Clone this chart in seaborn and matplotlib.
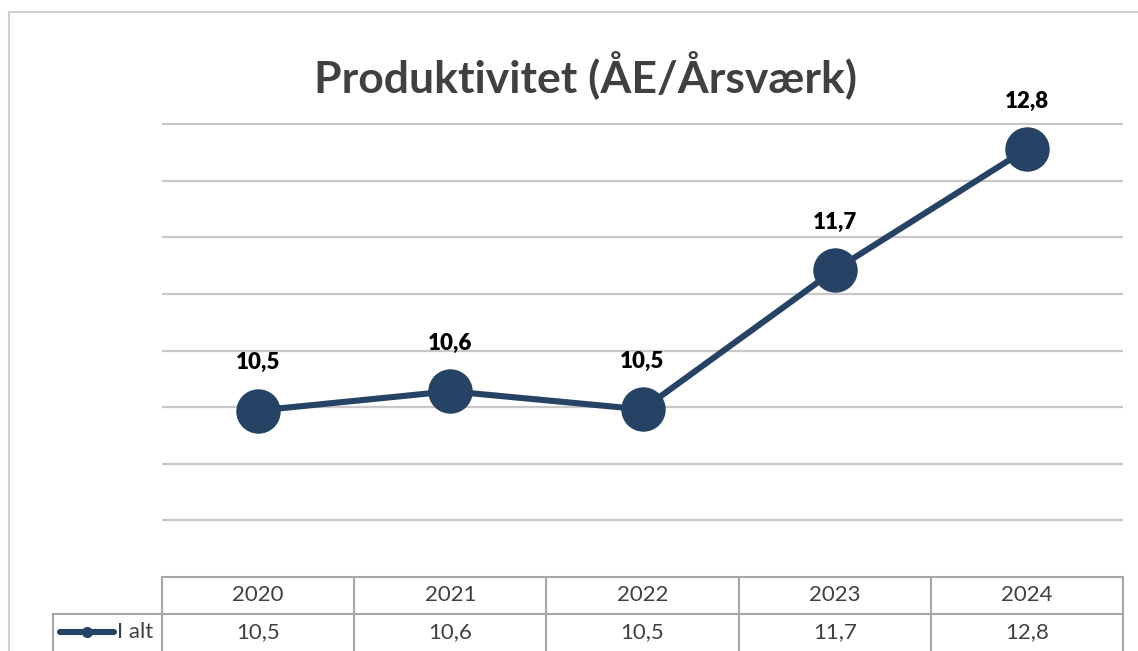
import matplotlib
matplotlib.use("Agg")
import matplotlib.pyplot as plt
import seaborn as sns
import pandas as pd
from matplotlib.lines import Line2D
from matplotlib.patches import Rectangle
import matplotlib.transforms as mtransforms

# ---- data ----
years = ["2020", "2021", "2022", "2023", "2024"]
values = [10.47, 10.64, 10.48, 11.71, 12.78]
series_name = "I alt"
title = "Produktivitet (ÅE/Årsværk)"

def fmt(v):
    return f"{v:.1f}".replace(".", ",")

sns.set_theme(style="white")
plt.rcParams["font.family"] = ["Lato", "DejaVu Sans"]

W, H = 1138, 651
fig = plt.figure(figsize=(W / 100, H / 100), dpi=100)

def fx(px):
    return px / W

def fy(py):
    return 1 - py / H

# axes: x from 162 to 1123 px, y=9 at 577 px, y=13 at 124 px
ppu = (577 - 124) / 4.0
ymax = 13.2
top_px = 577 - (ymax - 9) * ppu
ax = fig.add_axes([fx(162), fy(577), fx(1123) - fx(162), (577 - top_px) / H])

navy = "#264264"
df = pd.DataFrame({"x": range(len(years)), "y": values})
sns.lineplot(data=df, x="x", y="y", ax=ax, color=navy, linewidth=4.4,
             marker="o", markersize=32, markeredgewidth=0, legend=False)
ax.set_xlim(-0.5, len(years) - 0.5)
ax.set_ylim(9, ymax)

for g in [9.5, 10, 10.5, 11, 11.5, 12, 12.5, 13]:
    ax.axhline(g, color="#C8C8C8", linewidth=1.6, zorder=0)

for s in ax.spines.values():
    s.set_visible(False)
ax.set_xticks([])
ax.set_yticks([])
ax.set_xlabel("")
ax.set_ylabel("")

for i, v in enumerate(values):
    ax.annotate(fmt(v), (i, v), xytext=(0, 34.5), textcoords="offset points",
                ha="center", va="center", fontsize=16, fontweight="heavy",
                color="black")

# title
fig.text(fx(585), fy(75), title, ha="center", va="center", fontsize=32,
         fontweight="bold", color="#404040")

# chart border
fig.patches.append(Rectangle((fx(9), fy(660)), fx(1140) - fx(9), fy(12) - fy(660),
                             transform=fig.transFigure, fill=False,
                             edgecolor="#D0D0D0", linewidth=1.5))

# data table
grid_c = "#A6A6A6"
trans = mtransforms.blended_transform_factory(ax.transData, fig.transFigure)
x_edges = [i - 0.5 for i in range(len(years) + 1)]
for xe in x_edges:
    ax.add_line(Line2D([xe, xe], [fy(577), fy(660)], transform=trans, color=grid_c,
                       linewidth=1.5, clip_on=False))
ax.add_line(Line2D([x_edges[0], x_edges[-1]], [fy(577), fy(577)], transform=trans,
                   color=grid_c, linewidth=1.5, clip_on=False))
fig.lines.append(Line2D([fx(53), fx(1123)], [fy(614), fy(614)], transform=fig.transFigure,
                        color=grid_c, linewidth=1.5))
fig.lines.append(Line2D([fx(53), fx(53)], [fy(614), fy(660)], transform=fig.transFigure,
                        color=grid_c, linewidth=1.5))

for i, (yr, v) in enumerate(zip(years, values)):
    ax.text(i, fy(595), yr, transform=trans, ha="center", va="center",
            fontsize=16, color="#404040")
    ax.text(i, fy(632), fmt(v), transform=trans, ha="center", va="center",
            fontsize=16, color="#404040")

# legend key in table
fig.lines.append(Line2D([fx(60), fx(114)], [fy(632), fy(632)], transform=fig.transFigure,
                        color=navy, linewidth=4.4, solid_capstyle="round"))
fig.lines.append(Line2D([fx(87)], [fy(632)], transform=fig.transFigure, color=navy,
                        marker="o", markersize=8, markeredgewidth=0))
fig.text(fx(117), fy(632), series_name, ha="left", va="center", fontsize=16,
         color="#404040")

fig.savefig("out.png", dpi=100)
